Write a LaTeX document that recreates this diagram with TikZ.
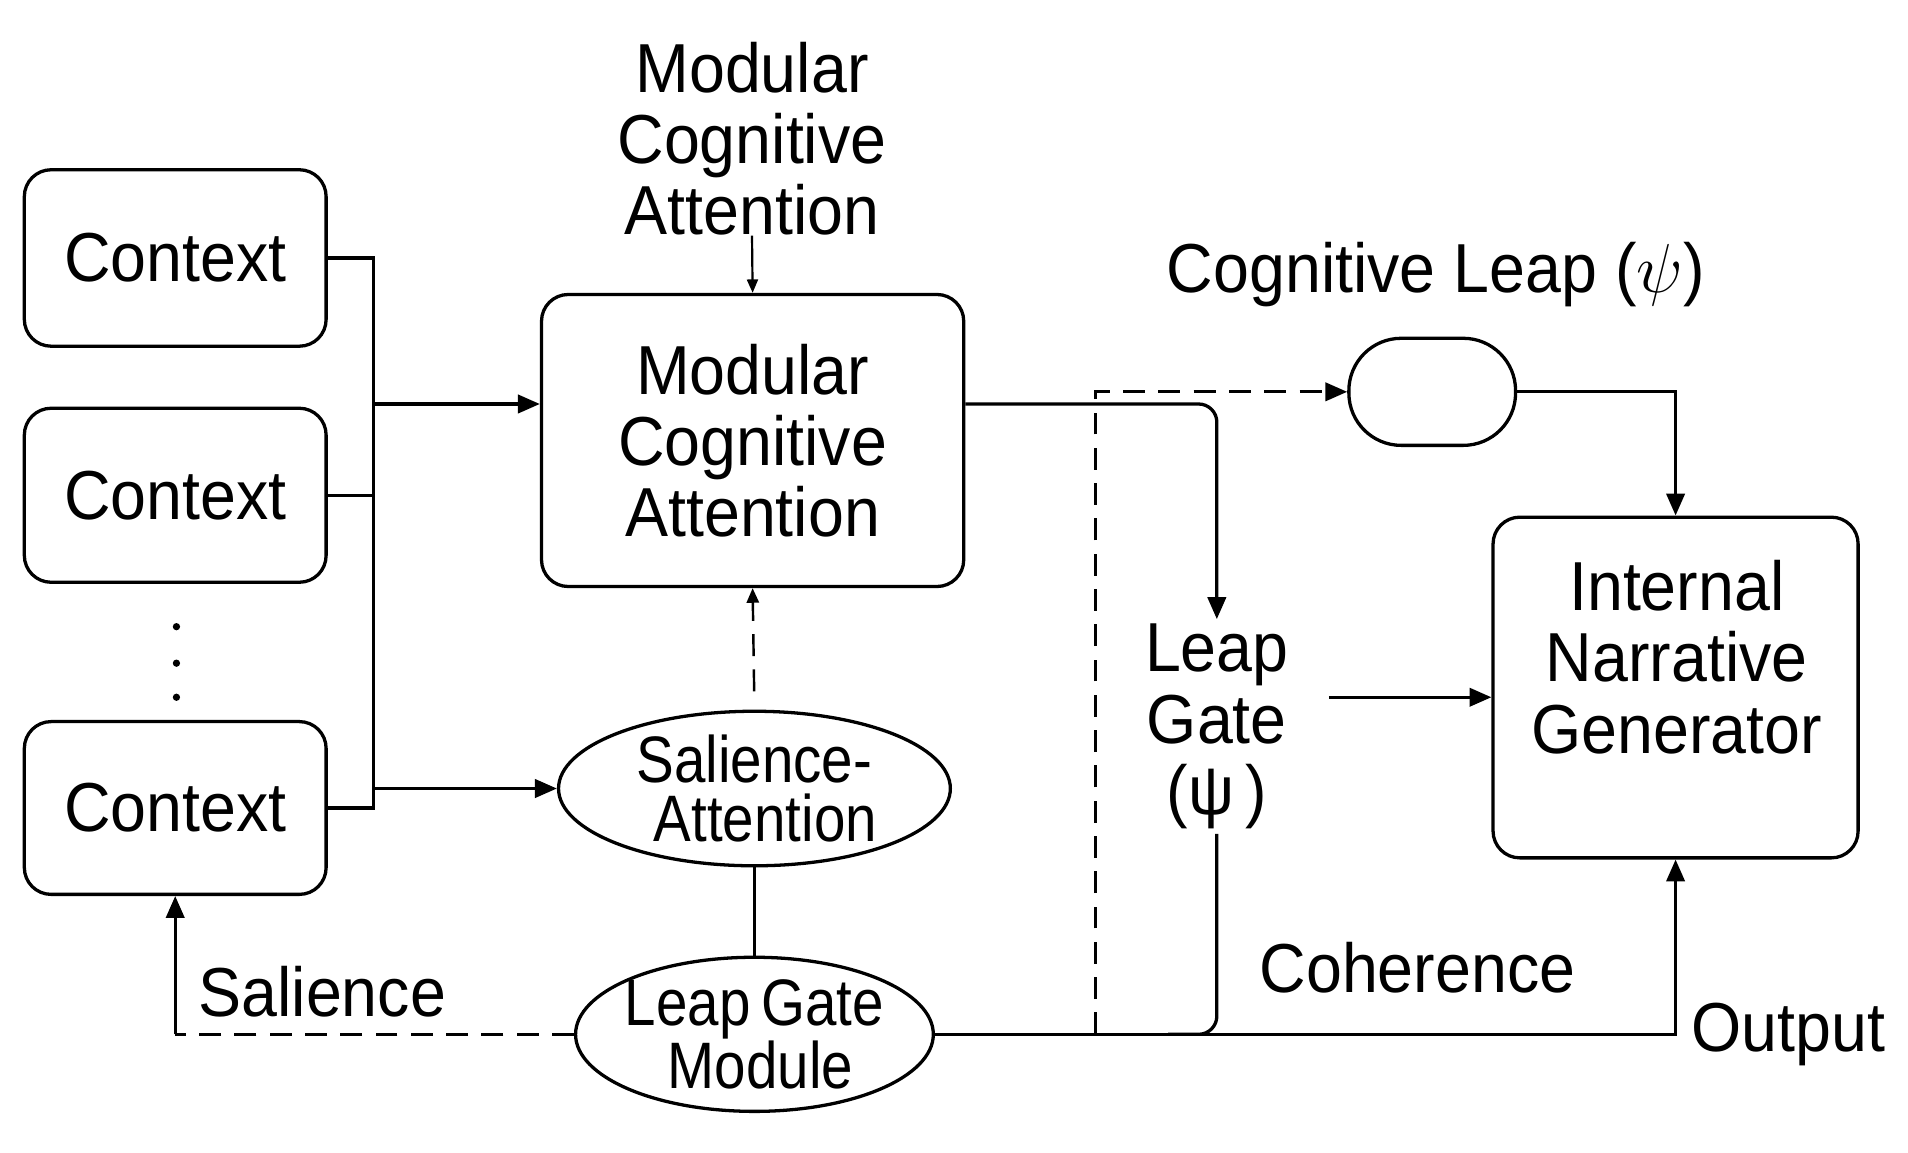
\documentclass[tikz,border=0pt]{standalone}
\usepackage{fix-cm}
\usepackage{fontspec}
\setmainfont{Liberation Sans}[FakeStretch=0.93]
\newfontfamily\narrowfont{Liberation Sans}[FakeStretch=0.86]
\usetikzlibrary{arrows.meta,shapes.geometric,calc}
\begin{document}
\begin{tikzpicture}[x=1pt,y=-1pt,
  every node/.style={font=\fontsize{57}{58.5}\selectfont, inner sep=0pt},
  box/.style={draw, line width=2.7pt, rounded corners=22pt, inner sep=0pt},
  ell/.style={draw, ellipse, line width=2.7pt, inner sep=0pt, inner xsep=-8pt, align=center,
    font=\narrowfont\fontsize{54}{48}\selectfont},
  conn/.style={line width=2.7pt},
  arr/.style={line width=2.7pt, -{Triangle[length=18pt,width=15pt]}},
  thinarr/.style={line width=1.8pt, -{Triangle[length=11pt,width=9pt]}},
  dsh/.style={dash pattern=on 18pt off 11pt}
]
\useasboundingbox (0,0) rectangle (1568,947.5);

% context boxes
\node[box, minimum width=248pt, minimum height=145pt] (ctx1) at (144,212) {Context};
\node[box, minimum width=248pt, minimum height=143pt] (ctx2) at (144,407) {Context};
\node[box, minimum width=248pt, minimum height=142pt] (ctx3) at (144,664) {Context};
\fill (145,515) circle (3pt);
\fill (145,545) circle (3pt);
\fill (145,573) circle (3pt);

% main boxes
\node[box, minimum width=347pt, minimum height=240pt, align=center] (mca) at (618.5,362) {Modular\\Cognitive\\Attention};
\node[align=center] (mcal) at (618,114) {Modular\\Cognitive\\Attention};
\node[ell, minimum width=322pt, minimum height=127pt] (sal) at (620,648) {Salience-\\\hspace*{18pt}Attention};
\node[ell, minimum width=294pt, minimum height=125pt] (lgm) at (620,850) {Leap\,Gate\\\hspace*{10pt}Module};
\node[align=center, inner sep=4pt] (lg) at (1000,597) {Leap\\Gate\\(ψ\,)};
\node[draw, line width=2.7pt, rounded corners=43pt, minimum width=137pt, minimum height=88pt] (cap) at (1177,322) {};
\node (cll) at (1180,226) {Cognitive Leap ($\psi$)};
\node[box, minimum width=300pt, minimum height=280pt] (ing) at (1377,565) {};
\node[align=center] (ingt) at (1378,540) {Internal\\Narrative\\Generator};

% labels
\node[anchor=base west] (sall) at (163,835) {Salience};
\node[anchor=base west] (coh) at (1035,816) {Coherence};
\node[anchor=base west] (outl) at (1390,864) {Output};

% bus from contexts
\coordinate (bt) at (307,212);
\coordinate (bb) at (ctx3.east -| bt);
\draw[conn] (ctx1.east) -- (bt) -- (bb) -- (ctx3.east);
\draw[conn] (ctx2.east) -- (ctx2.east -| bt);
\coordinate (j1) at (307,332);
\draw[arr] (j1) -- (j1 -| mca.west);
\coordinate (j2) at (sal.west -| bt);
\draw[arr] (j2) -- (sal.west);

% top label to MCA
\draw[thinarr] (mcal.south) -- (mca.north);

% salience-attention to MCA (dashed)
\draw[line width=2pt, dsh, -{Triangle[length=12pt,width=10pt]}, shorten <=15pt] (sal.north) -- (mca.south);
% salience-attention to leap gate module
\draw[line width=2.2pt] (sal.south) -- (lgm.north);

% salience feedback
\coordinate (sc) at (ctx3.south |- lgm.west);
\draw[conn, dsh] (lgm.west) -- (sc);
\draw[arr] (sc) -- (ctx3.south);

% output
\coordinate (oc) at (ing.south |- lgm.east);
\draw[arr] (lgm.east) -- (oc) -- (ing.south);

% coherence branch
\draw[conn, rounded corners=15pt] (lg.south) -- (lg.south |- lgm.east) -- ++(-40,0);

% dashed leap path
\coordinate (vx) at (900,0);
\coordinate (d1) at (lgm.east -| vx);
\coordinate (d2) at (900,322);
\draw[conn, dsh, -{Triangle[length=18pt,width=15pt]}] (d1) -- (d2) -- (d2 -| cap.west);

% MCA to leap gate
\coordinate (j3) at (j1 -| mca.east);
\draw[arr, rounded corners=15pt] (j3) -- (j3 -| lg.north) -- (lg.north);

% leap gate to ING
\coordinate (g1) at (1092,573);
\draw[arr] (g1) -- (g1 -| ing.west);

% capsule to ING
\draw[arr] (cap.east) -| (ing.north);
\end{tikzpicture}
\end{document}
